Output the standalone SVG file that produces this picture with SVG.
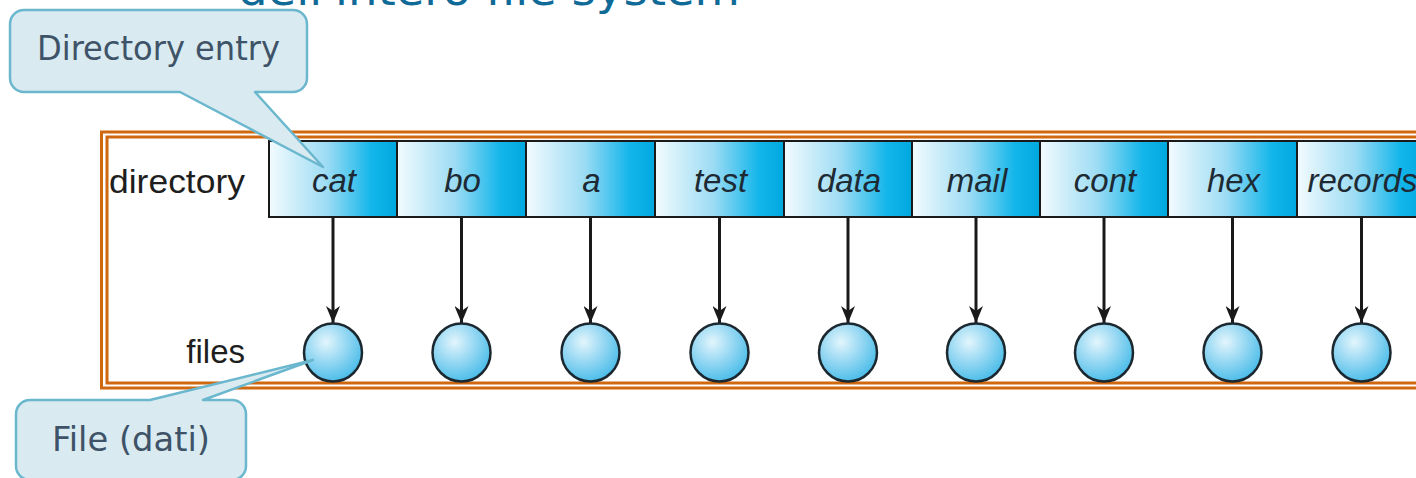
<svg xmlns="http://www.w3.org/2000/svg" width="1416" height="478" viewBox="0 0 1416 478">
  <defs>
    <linearGradient id="entryFill" x1="0" y1="0" x2="1" y2="0">
      <stop offset="0" stop-color="#f3fbfe"/>
      <stop offset="0.45" stop-color="#9ddcf4"/>
      <stop offset="0.8" stop-color="#14b6ea"/>
      <stop offset="1" stop-color="#00a8e0"/>
    </linearGradient>
    <radialGradient id="fileFill" cx="0.38" cy="0.32" r="0.7">
      <stop offset="0" stop-color="#e2f5fc"/>
      <stop offset="0.55" stop-color="#8fd5f2"/>
      <stop offset="1" stop-color="#4bbde9"/>
    </radialGradient>
    <!-- notched arrowhead, tip at the end of the line -->
    <marker id="arrowHead" viewBox="0 0 17 14" refX="17" refY="7" markerWidth="17" markerHeight="14" markerUnits="userSpaceOnUse" orient="auto">
      <path d="M0,0 L5,7 L0,14 L17,7 Z" fill="#1a1a1a"/>
    </marker>
    <style>
      .frame { fill: none; stroke: #d0680f; stroke-width: 3; }
      .entry { fill: url(#entryFill); stroke: #1a1a1a; stroke-width: 2; }
      .entry-label { font-family: "Liberation Sans", Arial, sans-serif; font-style: italic; font-size: 33px; fill: #1e2a33; text-anchor: middle; }
      .row-label { font-family: "Liberation Sans", Arial, sans-serif; font-size: 33px; fill: #1e1e1e; }
      .file { fill: url(#fileFill); stroke: #1c2830; stroke-width: 2.5; }
      .link { stroke: #1a1a1a; stroke-width: 3; fill: none; marker-end: url(#arrowHead); }
      .callout { fill: #d9eaf1; stroke: #6ab7ce; stroke-width: 2.5; stroke-linejoin: round; }
      .callout-text { font-family: "DejaVu Sans", Verdana, sans-serif; font-stretch: condensed; font-size: 33px; fill: #3e5367; text-anchor: middle; }
      .title { font-family: "DejaVu Sans", Verdana, sans-serif; font-size: 44px; fill: #0f6a97; }
    </style>
  </defs>

  <rect width="1416" height="478" fill="#ffffff"/>

  <!-- heading line, mostly above the top edge -->
  <text class="title" x="238" y="5" textLength="502" lengthAdjust="spacingAndGlyphs">dell'intero file system</text>

  <!-- double orange frame -->
  <g id="frame">
    <rect class="frame" x="101.5" y="132" width="1330" height="256"/>
    <rect class="frame" x="107" y="137" width="1320" height="246"/>
  </g>

  <!-- row labels -->
  <g id="labels">
    <text class="row-label" x="109" y="193" textLength="136" lengthAdjust="spacingAndGlyphs">directory</text>
    <text class="row-label" x="245" y="363" text-anchor="end">files</text>
  </g>

  <!-- directory entries -->
  <g id="entries">
    <g id="entry-cat"><rect class="entry" x="269" y="141" width="128" height="76"/><text class="entry-label" x="334" y="192">cat</text></g>
    <g id="entry-bo"><rect class="entry" x="397" y="141" width="129" height="76"/><text class="entry-label" x="462.5" y="192">bo</text></g>
    <g id="entry-a"><rect class="entry" x="526" y="141" width="129" height="76"/><text class="entry-label" x="591.5" y="192">a</text></g>
    <g id="entry-test"><rect class="entry" x="655" y="141" width="129" height="76"/><text class="entry-label" x="720.5" y="192">test</text></g>
    <g id="entry-data"><rect class="entry" x="784" y="141" width="128" height="76"/><text class="entry-label" x="849" y="192">data</text></g>
    <g id="entry-mail"><rect class="entry" x="912" y="141" width="128" height="76"/><text class="entry-label" x="977" y="192">mail</text></g>
    <g id="entry-cont"><rect class="entry" x="1040" y="141" width="128" height="76"/><text class="entry-label" x="1105" y="192">cont</text></g>
    <g id="entry-hex"><rect class="entry" x="1168" y="141" width="129" height="76"/><text class="entry-label" x="1233.5" y="192">hex</text></g>
    <g id="entry-records"><rect class="entry" x="1297" y="141" width="129" height="76"/><text class="entry-label" x="1362.5" y="192">records</text></g>
  </g>

  <!-- pointers from entries to files -->
  <g id="connectors">
    <line class="link" x1="333" y1="217" x2="333" y2="323"/>
    <line class="link" x1="461.5" y1="217" x2="461.5" y2="323"/>
    <line class="link" x1="590.5" y1="217" x2="590.5" y2="323"/>
    <line class="link" x1="719.5" y1="217" x2="719.5" y2="323"/>
    <line class="link" x1="848" y1="217" x2="848" y2="323"/>
    <line class="link" x1="976" y1="217" x2="976" y2="323"/>
    <line class="link" x1="1104" y1="217" x2="1104" y2="323"/>
    <line class="link" x1="1232.5" y1="217" x2="1232.5" y2="323"/>
    <line class="link" x1="1361.5" y1="217" x2="1361.5" y2="323"/>
  </g>

  <!-- files -->
  <g id="files">
    <circle id="file-cat" class="file" cx="333" cy="352.5" r="29"/>
    <circle id="file-bo" class="file" cx="461.5" cy="352.5" r="29"/>
    <circle id="file-a" class="file" cx="590.5" cy="352.5" r="29"/>
    <circle id="file-test" class="file" cx="719.5" cy="352.5" r="29"/>
    <circle id="file-data" class="file" cx="848" cy="352.5" r="29"/>
    <circle id="file-mail" class="file" cx="976" cy="352.5" r="29"/>
    <circle id="file-cont" class="file" cx="1104" cy="352.5" r="29"/>
    <circle id="file-hex" class="file" cx="1232.5" cy="352.5" r="29"/>
    <circle id="file-records" class="file" cx="1361.5" cy="352.5" r="29"/>
  </g>

  <!-- callouts -->
  <g id="callout-entry">
    <path class="callout" d="M24,10 H293 A14,14 0 0 1 307,24 V78 A14,14 0 0 1 293,92 H255 L323,167 L180,92 H24 A14,14 0 0 1 10,78 V24 A14,14 0 0 1 24,10 Z"/>
    <text class="callout-text" x="158.5" y="60" textLength="243" lengthAdjust="spacingAndGlyphs">Directory entry</text>
  </g>
  <g id="callout-file">
    <path class="callout" d="M30,400 H150 L313,360 L203,400 H232 A14,14 0 0 1 246,414 V466 A14,14 0 0 1 232,480 H30 A14,14 0 0 1 16,466 V414 A14,14 0 0 1 30,400 Z"/>
    <text class="callout-text" x="131" y="451" textLength="158" lengthAdjust="spacingAndGlyphs">File (dati)</text>
  </g>
</svg>
